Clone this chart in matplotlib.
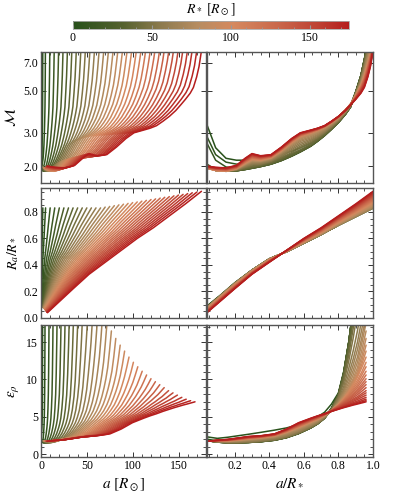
import numpy as np
import matplotlib
matplotlib.use("Agg")
import matplotlib.pyplot as plt
from matplotlib.colors import LinearSegmentedColormap, Normalize
from matplotlib.cm import ScalarMappable
from matplotlib.ticker import FixedLocator, MultipleLocator, NullFormatter, FormatStrFormatter, NullLocator

plt.rcParams['font.family'] = ['Liberation Serif', 'DejaVu Serif']
plt.rcParams['mathtext.fontset'] = 'stix'

# ---------------- data ----------------
RSTAR = [2, 5, 10, 15, 20, 25, 30, 35, 40, 45, 50, 55, 60, 65, 70, 75, 80, 85,
         90, 95, 100, 105, 110, 115, 120, 125, 130, 135, 140, 145, 150, 155, 160,
         165, 170, 175]

# a/R* sample positions for each quantity
XM = [0.04, 0.09, 0.15, 0.21, 0.26, 0.30, 0.35, 0.41, 0.47, 0.53, 0.58,
      0.64, 0.68, 0.72, 0.76, 0.80, 0.84, 0.87, 0.90, 0.93, 0.95, 0.97, 0.985, 1.00]
XR = [0.04, 0.12, 0.20, 0.30, 0.40, 0.50, 0.60, 0.70, 0.80, 0.90, 1.00]
XE = [0.04, 0.10, 0.16, 0.22, 0.28, 0.35, 0.43, 0.50, 0.57,
      0.64, 0.68, 0.72, 0.76, 0.80, 0.83, 0.86, 0.885, 0.91, 0.935, 0.96]

MACH_ROWS = [
    [3.30, 2.50, 2.20, 2.15, 2.15, 2.17, 2.20, 2.25, 2.32, 2.40, 2.50, 2.65, 2.79, 2.95, 3.18, 3.45, 3.80, 4.20, 4.95, 6.00, 7.30, 9.00, 10.4, 12.0],
    [2.86, 2.30, 2.10, 2.05, 2.05, 2.07, 2.10, 2.15, 2.22, 2.32, 2.43, 2.58, 2.74, 2.92, 3.15, 3.42, 3.77, 4.15, 4.92, 6.00, 7.30, 9.00, 10.4, 12.0],
    [2.64, 2.15, 1.98, 1.95, 1.97, 2.00, 2.04, 2.10, 2.18, 2.29, 2.40, 2.56, 2.72, 2.90, 3.14, 3.40, 3.75, 4.10, 4.90, 6.00, 7.30, 9.00, 10.4, 12.0],
    [2.05, 1.92, 1.88, 1.89, 1.92, 1.95, 1.99, 2.05, 2.14, 2.26, 2.38, 2.55, 2.71, 2.90, 3.13, 3.40, 3.75, 4.10, 4.90, 6.00, 7.30, 9.00, 10.4, 12.0],
    [2.02, 1.91, 1.88, 1.89, 1.92, 1.95, 1.99, 2.05, 2.14, 2.26, 2.38, 2.55, 2.71, 2.90, 3.13, 3.40, 3.75, 4.10, 4.90, 6.00, 7.30, 9.00, 10.4, 12.0],
    [2.00, 1.90, 1.88, 1.89, 1.92, 1.95, 1.99, 2.05, 2.14, 2.26, 2.38, 2.55, 2.71, 2.90, 3.13, 3.40, 3.75, 4.10, 4.90, 6.00, 7.30, 9.00, 10.4, 12.0],
    [2.00, 1.90, 1.88, 1.89, 1.92, 1.95, 1.99, 2.05, 2.15, 2.27, 2.39, 2.56, 2.72, 2.91, 3.14, 3.40, 3.75, 4.10, 4.90, 5.99, 7.27, 8.96, 10.3, 11.9],
    [2.00, 1.90, 1.88, 1.89, 1.93, 1.96, 2.00, 2.06, 2.16, 2.28, 2.40, 2.57, 2.73, 2.91, 3.14, 3.41, 3.76, 4.11, 4.89, 5.97, 7.25, 8.92, 10.3, 11.9],
    [1.99, 1.90, 1.88, 1.90, 1.94, 1.98, 2.01, 2.08, 2.19, 2.32, 2.44, 2.61, 2.76, 2.94, 3.17, 3.43, 3.78, 4.12, 4.87, 5.91, 7.12, 8.73, 10.1, 11.6],
    [1.99, 1.90, 1.88, 1.90, 1.96, 2.00, 2.03, 2.10, 2.22, 2.36, 2.50, 2.66, 2.80, 2.98, 3.19, 3.45, 3.80, 4.14, 4.85, 5.83, 6.98, 8.50, 9.78, 11.3],
    [1.98, 1.90, 1.88, 1.91, 1.97, 2.03, 2.05, 2.12, 2.25, 2.41, 2.55, 2.70, 2.84, 3.01, 3.22, 3.47, 3.82, 4.15, 4.83, 5.77, 6.85, 8.31, 9.54, 11.0],
    [1.98, 1.90, 1.88, 1.91, 1.99, 2.05, 2.06, 2.13, 2.28, 2.45, 2.60, 2.74, 2.87, 3.03, 3.24, 3.49, 3.83, 4.16, 4.82, 5.71, 6.73, 8.12, 9.31, 10.7],
    [1.97, 1.90, 1.88, 1.92, 2.00, 2.07, 2.08, 2.15, 2.31, 2.49, 2.65, 2.78, 2.91, 3.06, 3.27, 3.51, 3.85, 4.18, 4.80, 5.64, 6.61, 7.93, 9.07, 10.4],
    [1.97, 1.90, 1.88, 1.92, 2.02, 2.09, 2.10, 2.16, 2.33, 2.53, 2.70, 2.82, 2.94, 3.09, 3.29, 3.53, 3.87, 4.19, 4.78, 5.58, 6.49, 7.74, 8.84, 10.1],
    [1.96, 1.90, 1.88, 1.93, 2.03, 2.11, 2.11, 2.18, 2.35, 2.57, 2.74, 2.86, 2.98, 3.12, 3.32, 3.55, 3.89, 4.20, 4.76, 5.52, 6.37, 7.55, 8.61, 9.86],
    [1.96, 1.90, 1.88, 1.93, 2.04, 2.13, 2.12, 2.19, 2.37, 2.60, 2.78, 2.90, 3.01, 3.15, 3.34, 3.57, 3.91, 4.22, 4.74, 5.45, 6.25, 7.36, 8.37, 9.58],
    [1.96, 1.90, 1.88, 1.93, 2.05, 2.14, 2.13, 2.20, 2.38, 2.62, 2.81, 2.93, 3.04, 3.17, 3.36, 3.58, 3.92, 4.23, 4.73, 5.41, 6.17, 7.24, 8.22, 9.40],
    [1.95, 1.90, 1.88, 1.94, 2.06, 2.15, 2.14, 2.21, 2.40, 2.64, 2.84, 2.96, 3.06, 3.19, 3.38, 3.60, 3.93, 4.24, 4.72, 5.36, 6.07, 7.09, 8.03, 9.18],
    [1.95, 1.90, 1.88, 1.94, 2.07, 2.16, 2.15, 2.21, 2.41, 2.66, 2.86, 2.98, 3.08, 3.21, 3.39, 3.61, 3.94, 4.24, 4.71, 5.33, 6.00, 6.98, 7.90, 9.02],
    [1.95, 1.90, 1.88, 1.94, 2.07, 2.17, 2.15, 2.22, 2.41, 2.67, 2.87, 2.99, 3.09, 3.21, 3.39, 3.62, 3.95, 4.25, 4.70, 5.31, 5.98, 6.94, 7.85, 8.96],
    [1.95, 1.90, 1.88, 1.94, 2.08, 2.18, 2.16, 2.22, 2.42, 2.68, 2.88, 3.00, 3.10, 3.22, 3.40, 3.62, 3.95, 4.25, 4.70, 5.30, 5.95, 6.90, 7.80, 8.90],
    [1.95, 1.90, 1.89, 1.95, 2.09, 2.19, 2.17, 2.23, 2.43, 2.69, 2.89, 3.01, 3.10, 3.22, 3.40, 3.62, 3.95, 4.25, 4.69, 5.27, 5.90, 6.83, 7.73, 8.85],
    [1.96, 1.91, 1.89, 1.95, 2.10, 2.20, 2.17, 2.23, 2.43, 2.70, 2.90, 3.01, 3.11, 3.23, 3.41, 3.63, 3.95, 4.24, 4.67, 5.24, 5.85, 6.77, 7.65, 8.79],
    [1.96, 1.91, 1.90, 1.96, 2.10, 2.21, 2.18, 2.24, 2.44, 2.70, 2.90, 3.02, 3.11, 3.23, 3.41, 3.63, 3.95, 4.24, 4.66, 5.21, 5.80, 6.70, 7.58, 8.74],
    [1.96, 1.92, 1.90, 1.96, 2.11, 2.22, 2.19, 2.24, 2.45, 2.71, 2.91, 3.03, 3.12, 3.23, 3.41, 3.63, 3.94, 4.24, 4.65, 5.18, 5.75, 6.63, 7.51, 8.69],
    [1.97, 1.92, 1.91, 1.97, 2.12, 2.23, 2.20, 2.25, 2.45, 2.72, 2.92, 3.03, 3.12, 3.24, 3.42, 3.63, 3.94, 4.23, 4.63, 5.15, 5.70, 6.57, 7.43, 8.63],
    [1.97, 1.93, 1.91, 1.97, 2.13, 2.24, 2.20, 2.25, 2.46, 2.73, 2.93, 3.04, 3.13, 3.24, 3.42, 3.64, 3.94, 4.23, 4.62, 5.12, 5.65, 6.50, 7.36, 8.58],
    [1.97, 1.93, 1.92, 1.98, 2.14, 2.25, 2.21, 2.26, 2.47, 2.74, 2.94, 3.05, 3.13, 3.24, 3.42, 3.64, 3.94, 4.23, 4.61, 5.09, 5.60, 6.43, 7.29, 8.53],
    [1.98, 1.94, 1.92, 1.98, 2.14, 2.26, 2.22, 2.26, 2.47, 2.74, 2.94, 3.05, 3.14, 3.25, 3.43, 3.64, 3.94, 4.22, 4.59, 5.06, 5.55, 6.37, 7.21, 8.47],
    [1.98, 1.94, 1.93, 1.99, 2.15, 2.27, 2.23, 2.27, 2.48, 2.75, 2.95, 3.06, 3.14, 3.25, 3.43, 3.64, 3.94, 4.22, 4.58, 5.03, 5.50, 6.30, 7.14, 8.42],
    [1.98, 1.95, 1.93, 1.99, 2.16, 2.28, 2.23, 2.27, 2.49, 2.76, 2.96, 3.07, 3.15, 3.25, 3.43, 3.65, 3.94, 4.22, 4.57, 5.00, 5.45, 6.23, 7.07, 8.37],
    [1.99, 1.95, 1.94, 2.00, 2.17, 2.29, 2.24, 2.28, 2.49, 2.77, 2.97, 3.07, 3.15, 3.26, 3.44, 3.65, 3.94, 4.21, 4.55, 4.97, 5.40, 6.17, 6.99, 8.31],
    [1.99, 1.96, 1.94, 2.00, 2.18, 2.30, 2.25, 2.28, 2.50, 2.78, 2.98, 3.08, 3.16, 3.26, 3.44, 3.65, 3.93, 4.21, 4.54, 4.94, 5.35, 6.10, 6.92, 8.26],
    [1.99, 1.96, 1.95, 2.01, 2.18, 2.31, 2.26, 2.29, 2.51, 2.78, 2.98, 3.09, 3.16, 3.26, 3.44, 3.65, 3.93, 4.21, 4.53, 4.91, 5.30, 6.03, 6.85, 8.21],
    [2.00, 1.97, 1.95, 2.01, 2.19, 2.32, 2.26, 2.29, 2.51, 2.79, 2.99, 3.09, 3.17, 3.27, 3.45, 3.66, 3.93, 4.20, 4.51, 4.88, 5.25, 5.97, 6.77, 8.15],
    [2.00, 1.97, 1.96, 2.02, 2.20, 2.33, 2.27, 2.30, 2.52, 2.80, 3.00, 3.10, 3.17, 3.27, 3.45, 3.66, 3.93, 4.20, 4.50, 4.85, 5.20, 5.90, 6.70, 8.10],
]

RA_ROWS = [
    [0.090, 0.175, 0.265, 0.362, 0.446, 0.500, 0.565, 0.630, 0.700, 0.765, 0.830],
    [0.088, 0.173, 0.263, 0.361, 0.446, 0.500, 0.565, 0.630, 0.700, 0.765, 0.830],
    [0.085, 0.171, 0.261, 0.360, 0.445, 0.500, 0.565, 0.630, 0.700, 0.765, 0.830],
    [0.080, 0.170, 0.260, 0.360, 0.445, 0.500, 0.565, 0.630, 0.700, 0.765, 0.830],
    [0.080, 0.170, 0.260, 0.360, 0.445, 0.500, 0.565, 0.630, 0.700, 0.765, 0.830],
    [0.080, 0.170, 0.260, 0.360, 0.445, 0.500, 0.565, 0.630, 0.700, 0.765, 0.830],
    [0.080, 0.170, 0.260, 0.360, 0.445, 0.500, 0.565, 0.630, 0.700, 0.765, 0.830],
    [0.080, 0.170, 0.260, 0.360, 0.445, 0.500, 0.565, 0.630, 0.700, 0.765, 0.830],
    [0.080, 0.170, 0.260, 0.360, 0.445, 0.500, 0.565, 0.630, 0.700, 0.765, 0.830],
    [0.080, 0.170, 0.260, 0.360, 0.445, 0.500, 0.565, 0.630, 0.700, 0.765, 0.830],
    [0.080, 0.170, 0.260, 0.360, 0.445, 0.500, 0.565, 0.630, 0.700, 0.765, 0.830],
    [0.080, 0.170, 0.260, 0.360, 0.445, 0.500, 0.565, 0.630, 0.700, 0.765, 0.830],
    [0.080, 0.170, 0.260, 0.360, 0.445, 0.500, 0.565, 0.630, 0.700, 0.765, 0.830],
    [0.080, 0.170, 0.260, 0.360, 0.445, 0.500, 0.565, 0.630, 0.700, 0.765, 0.830],
    [0.078, 0.168, 0.258, 0.359, 0.444, 0.500, 0.567, 0.632, 0.703, 0.769, 0.836],
    [0.076, 0.166, 0.256, 0.357, 0.443, 0.501, 0.568, 0.635, 0.706, 0.774, 0.841],
    [0.075, 0.165, 0.255, 0.356, 0.442, 0.501, 0.570, 0.637, 0.710, 0.778, 0.847],
    [0.073, 0.163, 0.253, 0.355, 0.440, 0.502, 0.571, 0.639, 0.713, 0.782, 0.853],
    [0.071, 0.161, 0.251, 0.353, 0.439, 0.502, 0.573, 0.641, 0.716, 0.787, 0.858],
    [0.069, 0.159, 0.249, 0.352, 0.438, 0.503, 0.575, 0.644, 0.719, 0.791, 0.864],
    [0.067, 0.157, 0.247, 0.350, 0.437, 0.503, 0.576, 0.646, 0.722, 0.795, 0.870],
    [0.065, 0.155, 0.245, 0.349, 0.436, 0.504, 0.578, 0.648, 0.725, 0.800, 0.875],
    [0.064, 0.154, 0.244, 0.348, 0.435, 0.504, 0.579, 0.650, 0.729, 0.804, 0.881],
    [0.062, 0.152, 0.242, 0.346, 0.434, 0.505, 0.581, 0.653, 0.732, 0.808, 0.887],
    [0.060, 0.150, 0.240, 0.345, 0.433, 0.505, 0.583, 0.655, 0.735, 0.813, 0.893],
    [0.058, 0.148, 0.238, 0.344, 0.431, 0.505, 0.584, 0.657, 0.738, 0.817, 0.898],
    [0.056, 0.146, 0.236, 0.342, 0.430, 0.506, 0.586, 0.660, 0.741, 0.821, 0.904],
    [0.055, 0.145, 0.235, 0.341, 0.429, 0.506, 0.587, 0.662, 0.745, 0.825, 0.910],
    [0.053, 0.143, 0.233, 0.340, 0.428, 0.507, 0.589, 0.664, 0.748, 0.830, 0.915],
    [0.051, 0.141, 0.231, 0.338, 0.427, 0.507, 0.590, 0.666, 0.751, 0.834, 0.921],
    [0.049, 0.139, 0.229, 0.337, 0.426, 0.508, 0.592, 0.669, 0.754, 0.838, 0.927],
    [0.047, 0.137, 0.227, 0.335, 0.425, 0.508, 0.594, 0.671, 0.757, 0.843, 0.932],
    [0.045, 0.135, 0.225, 0.334, 0.424, 0.509, 0.595, 0.673, 0.760, 0.847, 0.938],
    [0.044, 0.134, 0.224, 0.333, 0.423, 0.509, 0.597, 0.675, 0.764, 0.851, 0.944],
    [0.042, 0.132, 0.222, 0.331, 0.421, 0.510, 0.598, 0.678, 0.767, 0.856, 0.949],
    [0.040, 0.130, 0.220, 0.330, 0.420, 0.510, 0.600, 0.680, 0.770, 0.860, 0.955],
]

EPS_ROWS = [
    [2.30, 2.10, 2.25, 2.45, 2.65, 2.90, 3.20, 3.50, 3.95, 4.60, 5.00, 5.60, 6.70, 8.20, 11.0, 15.0, 19.5, 25.0, 32.0, 40.0],
    [2.00, 1.75, 1.65, 1.62, 1.65, 1.74, 1.92, 2.25, 2.80, 3.55, 4.10, 4.85, 6.20, 8.10, 10.9, 15.0, 19.5, 25.0, 32.0, 40.0],
    [1.85, 1.65, 1.55, 1.53, 1.57, 1.67, 1.87, 2.21, 2.76, 3.51, 4.07, 4.81, 6.10, 8.00, 10.8, 15.0, 19.5, 25.0, 32.0, 40.0],
    [1.80, 1.60, 1.50, 1.50, 1.55, 1.65, 1.85, 2.20, 2.75, 3.50, 4.05, 4.80, 6.10, 8.00, 10.8, 15.0, 19.5, 25.0, 32.0, 40.0],
    [1.80, 1.60, 1.50, 1.50, 1.55, 1.65, 1.85, 2.20, 2.75, 3.50, 4.05, 4.80, 6.10, 8.00, 10.8, 15.0, 19.5, 25.0, 32.0, 40.0],
    [1.80, 1.60, 1.50, 1.50, 1.55, 1.65, 1.85, 2.20, 2.75, 3.50, 4.05, 4.80, 6.10, 8.00, 10.8, 15.0, 19.5, 25.0, 32.0, 40.0],
    [1.80, 1.60, 1.50, 1.50, 1.55, 1.65, 1.85, 2.20, 2.75, 3.50, 4.05, 4.80, 6.10, 8.00, 10.8, 15.0, 19.5, 25.0, 32.0, 40.0],
    [1.80, 1.60, 1.51, 1.51, 1.56, 1.67, 1.87, 2.22, 2.77, 3.52, 4.07, 4.81, 6.05, 7.90, 10.6, 14.5, 18.8, 24.0, 30.5, 38.0],
    [1.80, 1.61, 1.51, 1.52, 1.57, 1.68, 1.89, 2.24, 2.79, 3.55, 4.08, 4.82, 6.00, 7.80, 10.3, 14.0, 17.8, 22.5, 28.5, 35.0],
    [1.80, 1.61, 1.52, 1.52, 1.58, 1.70, 1.91, 2.26, 2.81, 3.57, 4.10, 4.83, 5.95, 7.70, 9.90, 13.3, 16.8, 21.0, 26.2, 32.0],
    [1.79, 1.62, 1.53, 1.53, 1.60, 1.72, 1.93, 2.28, 2.84, 3.60, 4.12, 4.85, 5.90, 7.60, 9.50, 12.5, 15.5, 19.0, 23.2, 28.0],
    [1.78, 1.64, 1.56, 1.58, 1.66, 1.79, 2.01, 2.37, 2.93, 3.68, 4.18, 4.90, 5.85, 7.40, 9.00, 11.5, 13.8, 16.5, 20.0, 24.0],
    [1.78, 1.66, 1.60, 1.63, 1.73, 1.86, 2.09, 2.46, 3.03, 3.77, 4.25, 4.95, 5.80, 7.20, 8.60, 10.7, 12.7, 15.0, 18.0, 21.5],
    [1.77, 1.68, 1.64, 1.68, 1.80, 1.93, 2.17, 2.56, 3.14, 3.86, 4.32, 5.00, 5.80, 7.05, 8.35, 10.1, 11.9, 14.0, 16.7, 19.8],
    [1.77, 1.70, 1.67, 1.74, 1.86, 2.00, 2.24, 2.66, 3.25, 3.95, 4.40, 5.05, 5.80, 6.95, 8.10, 9.60, 11.2, 13.0, 15.6, 18.6],
    [1.76, 1.71, 1.70, 1.78, 1.91, 2.06, 2.30, 2.75, 3.35, 4.05, 4.48, 5.10, 5.80, 6.85, 7.90, 9.20, 10.6, 12.3, 14.8, 17.6],
    [1.76, 1.72, 1.73, 1.82, 1.96, 2.11, 2.36, 2.83, 3.44, 4.14, 4.55, 5.13, 5.80, 6.75, 7.70, 8.90, 10.1, 11.6, 13.9, 16.5],
    [1.76, 1.73, 1.75, 1.85, 2.00, 2.15, 2.40, 2.88, 3.51, 4.21, 4.60, 5.16, 5.80, 6.70, 7.60, 8.70, 9.80, 11.1, 13.1, 15.5],
    [1.75, 1.74, 1.76, 1.88, 2.03, 2.18, 2.43, 2.92, 3.56, 4.26, 4.65, 5.18, 5.80, 6.65, 7.50, 8.50, 9.50, 10.7, 12.5, 14.6],
    [1.75, 1.74, 1.77, 1.89, 2.04, 2.19, 2.44, 2.94, 3.58, 4.28, 4.67, 5.19, 5.82, 6.62, 7.45, 8.40, 9.35, 10.5, 12.0, 13.8],
    [1.75, 1.75, 1.78, 1.90, 2.05, 2.20, 2.45, 2.95, 3.60, 4.30, 4.70, 5.20, 5.85, 6.60, 7.40, 8.30, 9.25, 10.3, 11.6, 13.0],
    [1.75, 1.76, 1.79, 1.92, 2.07, 2.22, 2.47, 2.98, 3.64, 4.33, 4.72, 5.21, 5.85, 6.58, 7.33, 8.15, 8.98, 9.90, 11.0, 12.3],
    [1.74, 1.76, 1.80, 1.93, 2.09, 2.23, 2.48, 3.00, 3.68, 4.37, 4.76, 5.23, 5.86, 6.56, 7.26, 8.01, 8.75, 9.57, 10.6, 11.7],
    [1.74, 1.77, 1.82, 1.95, 2.11, 2.25, 2.50, 3.03, 3.72, 4.40, 4.78, 5.24, 5.86, 6.52, 7.17, 7.85, 8.52, 9.24, 10.15, 11.1],
    [1.74, 1.78, 1.83, 1.97, 2.13, 2.27, 2.52, 3.06, 3.76, 4.43, 4.80, 5.25, 5.86, 6.49, 7.09, 7.71, 8.32, 8.96, 9.75, 10.6],
    [1.73, 1.78, 1.84, 1.98, 2.15, 2.28, 2.53, 3.08, 3.80, 4.47, 4.84, 5.27, 5.86, 6.45, 7.00, 7.56, 8.10, 8.67, 9.36, 10.1],
    [1.73, 1.79, 1.85, 2.00, 2.17, 2.30, 2.55, 3.11, 3.84, 4.50, 4.86, 5.28, 5.86, 6.42, 6.93, 7.45, 7.94, 8.44, 9.05, 9.70],
    [1.73, 1.80, 1.86, 2.02, 2.19, 2.32, 2.57, 3.14, 3.88, 4.53, 4.89, 5.29, 5.85, 6.38, 6.86, 7.32, 7.76, 8.20, 8.74, 9.30],
    [1.72, 1.80, 1.88, 2.03, 2.21, 2.33, 2.58, 3.16, 3.92, 4.57, 4.92, 5.31, 5.83, 6.33, 6.77, 7.18, 7.57, 7.95, 8.42, 8.90],
    [1.72, 1.81, 1.89, 2.05, 2.23, 2.35, 2.60, 3.19, 3.96, 4.60, 4.95, 5.32, 5.80, 6.26, 6.66, 7.02, 7.37, 7.69, 8.10, 8.50],
    [1.72, 1.82, 1.90, 2.07, 2.25, 2.37, 2.62, 3.22, 4.00, 4.63, 4.98, 5.33, 5.79, 6.22, 6.58, 6.91, 7.22, 7.50, 7.86, 8.20],
    [1.71, 1.82, 1.91, 2.08, 2.27, 2.38, 2.63, 3.24, 4.04, 4.67, 5.02, 5.35, 5.78, 6.17, 6.50, 6.79, 7.06, 7.31, 7.61, 7.90],
    [1.71, 1.83, 1.92, 2.10, 2.29, 2.40, 2.65, 3.27, 4.08, 4.70, 5.05, 5.36, 5.75, 6.11, 6.40, 6.66, 6.89, 7.10, 7.36, 7.60],
    [1.71, 1.84, 1.94, 2.12, 2.31, 2.42, 2.67, 3.30, 4.12, 4.73, 5.07, 5.37, 5.73, 6.06, 6.32, 6.55, 6.75, 6.93, 7.15, 7.35],
    [1.70, 1.84, 1.95, 2.13, 2.33, 2.43, 2.68, 3.32, 4.16, 4.77, 5.10, 5.39, 5.72, 6.03, 6.26, 6.46, 6.64, 6.80, 6.98, 7.15],
    [1.70, 1.85, 1.96, 2.15, 2.35, 2.45, 2.70, 3.35, 4.20, 4.80, 5.12, 5.40, 5.72, 6.00, 6.21, 6.40, 6.56, 6.70, 6.85, 7.00],
]

CBAR_TICKS = [0, 50, 100, 150]
RMAX = 175
MACH_TICKS = [2.0, 3.0, 5.0, 7.0]
RA_TICKS = [0.0, 0.2, 0.4, 0.6, 0.8]
EPS_TICKS = [0, 5, 10, 15]
A_TICKS = [0, 50, 100, 150]
F_TICKS = [0.2, 0.4, 0.6, 0.8, 1.0]

# ---------------- style ----------------
CMAP = LinearSegmentedColormap.from_list("gr", [
    (0.00, "#27501a"), (0.18, "#55612f"), (0.33, "#917c50"), (0.45, "#b68c60"),
    (0.58, "#d5895f"), (0.75, "#c9664a"), (0.90, "#bd3e31"), (1.00, "#b51d1d")])
NORM = Normalize(0, RMAX)

W, H = 415, 494
fig = plt.figure(figsize=(W / 100, H / 100), dpi=100)

def add_ax(x0, y0, x1, y1):
    return fig.add_axes([x0 / W, 1 - y1 / H, (x1 - x0) / W, (y1 - y0) / H])

LX = (41, 206)
RX = (207, 373)
ROWS_Y = [(52, 183), (188, 318), (325, 457)]

axes = []
for (y0, y1) in ROWS_Y:
    axes.append((add_ax(LX[0], y0, LX[1], y1), add_ax(RX[0], y0, RX[1], y1)))

SP = "#555555"
for pair in axes:
    for ax in pair:
        for s in ax.spines.values():
            s.set_color(SP)
            s.set_linewidth(1.0)
        ax.tick_params(which='both', direction='in', top=True, right=True,
                       color='#333333', labelsize=8.5, pad=2)
        ax.tick_params(which='major', length=3.5, width=0.7)
        ax.tick_params(which='minor', length=2, width=0.6)

xs_sets = [XM, XR, XE]
rows_sets = [MACH_ROWS, RA_ROWS, EPS_ROWS]
for (axl, axr), xs, rows in zip(axes, xs_sets, rows_sets):
    f = np.array(xs)
    for R, vals in zip(RSTAR, rows):
        c = CMAP(NORM(R))
        axl.plot(f * R, vals, color=c, lw=1.1, solid_capstyle='round', solid_joinstyle='round')
        axr.plot(f, vals, color=c, lw=1.1, solid_capstyle='round', solid_joinstyle='round')

# limits and ticks
for i, (axl, axr) in enumerate(axes):
    axl.set_xlim(0, 180)
    axr.set_xlim(0.04, 1.0)
    axl.xaxis.set_major_locator(FixedLocator(A_TICKS))
    axl.xaxis.set_minor_locator(MultipleLocator(10))
    axr.xaxis.set_major_locator(FixedLocator(F_TICKS))
    axr.xaxis.set_minor_locator(MultipleLocator(0.05))
    axr.yaxis.set_major_formatter(NullFormatter())
    axr.yaxis.set_minor_formatter(NullFormatter())
    if i < 2:
        axl.xaxis.set_major_formatter(NullFormatter())
        axr.xaxis.set_major_formatter(NullFormatter())
    else:
        axl.xaxis.set_major_formatter(FormatStrFormatter('%d'))
        axr.xaxis.set_major_formatter(FormatStrFormatter('%.1f'))

# top row: Mach, log scale
for ax in axes[0]:
    ax.set_yscale('log')
    ax.set_ylim(1.63, 8.0)
    ax.yaxis.set_major_locator(FixedLocator(MACH_TICKS))
    ax.yaxis.set_minor_locator(NullLocator())
    ax.yaxis.set_minor_formatter(NullFormatter())
axes[0][0].yaxis.set_major_formatter(FormatStrFormatter('%.1f'))
axes[0][1].yaxis.set_major_formatter(NullFormatter())

for ax in axes[1]:
    ax.set_ylim(0.0, 0.98)
    ax.yaxis.set_major_locator(FixedLocator(RA_TICKS))
    ax.yaxis.set_minor_locator(MultipleLocator(0.05))
axes[1][0].yaxis.set_major_formatter(FormatStrFormatter('%.1f'))
axes[1][1].yaxis.set_major_formatter(NullFormatter())

for ax in axes[2]:
    ax.set_ylim(-0.4, 17.3)
    ax.yaxis.set_major_locator(FixedLocator(EPS_TICKS))
    ax.yaxis.set_minor_locator(MultipleLocator(1))
axes[2][0].yaxis.set_major_formatter(FormatStrFormatter('%d'))
axes[2][1].yaxis.set_major_formatter(NullFormatter())

axes[0][0].set_ylabel(r'$\mathcal{M}$', fontsize=11, labelpad=4)
axes[1][0].set_ylabel(r'$R_a/R_*$', fontsize=10, labelpad=2)
axes[2][0].set_ylabel(r'$\epsilon_\rho$', fontsize=11, labelpad=4)
axes[2][0].set_xlabel(r'$a\ [R_\odot]$', fontsize=11, labelpad=3)
axes[2][1].set_xlabel(r'$a/R_*$', fontsize=11, labelpad=3)

# colorbar
cax = add_ax(73, 21, 349, 29)
sm = ScalarMappable(norm=NORM, cmap=CMAP)
cb = fig.colorbar(sm, cax=cax, orientation='horizontal')
cb.set_ticks(CBAR_TICKS)
cb.ax.xaxis.set_minor_locator(MultipleLocator(10))
cb.ax.tick_params(which='both', direction='in', labelsize=8.5, color='#999999', pad=2)
cb.ax.tick_params(which='major', length=3)
cb.ax.tick_params(which='minor', length=1.5)
cb.outline.set_edgecolor('#aaaaaa')
cb.outline.set_linewidth(0.6)
fig.text(211 / W, 1 - 10 / H, r'$R_*\ [R_\odot]$', ha='center', va='center', fontsize=10)

fig.savefig('out.png', dpi=100)
